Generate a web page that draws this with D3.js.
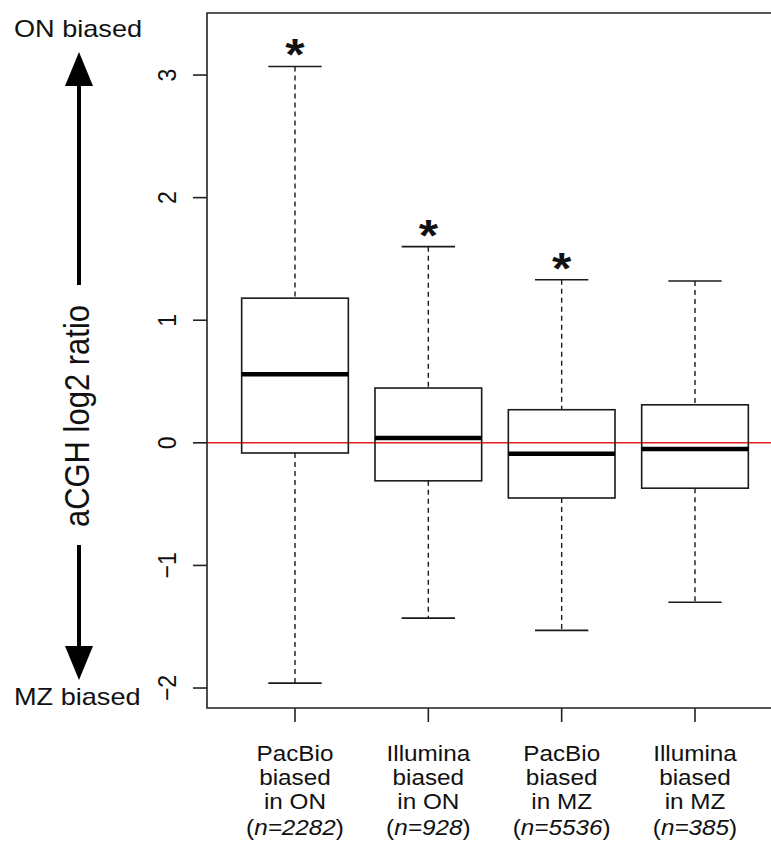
<!DOCTYPE html>
<html>
<head>
<meta charset="utf-8">
<script src="https://cdn.jsdelivr.net/npm/d3@7/dist/d3.min.js"></script>
<style>
  html, body { margin: 0; padding: 0; background: #fff; }
  svg { display: block; }
  text { font-family: "Liberation Sans", Arial, Helvetica, sans-serif; fill: #111; }
</style>
</head>
<body>
<svg id="chart" width="771" height="843"></svg>
<script>
// ---- data ----
const categories = [
  ["PacBio", "biased", "in ON"],
  ["Illumina", "biased", "in ON"],
  ["PacBio", "biased", "in MZ"],
  ["Illumina", "biased", "in MZ"]
];
const sampleSizes = ["2282", "928", "5536", "385"];
const whiskerLow  = [-1.96, -1.43, -1.53, -1.30];
const q1          = [-0.083, -0.31, -0.45, -0.37];
const median      = [0.56, 0.04, -0.09, -0.05];
const q3          = [1.18, 0.447, 0.27, 0.31];
const whiskerHigh = [3.07, 1.60, 1.33, 1.32];
const significant = [true, true, true, false];
const yTicks = [-2, -1, 0, 1, 2, 3];
const yTitle = "aCGH log2 ratio";
const topNote = "ON biased";
const bottomNote = "MZ biased";

// ---- layout ----
const svg = d3.select("#chart");
const SX = 1.13; // horizontal glyph stretch of the original raster
const plotLeft = 207, plotRight = 783, plotTop = 13, plotBottom = 708;

const x = d3.scaleLinear().domain([0.34, 4.66]).range([plotLeft, plotRight]);
const y = d3.scaleLinear().domain([-2.163, 3.506]).range([plotBottom, plotTop]);
const boxW = x(1.4) - x(1);   // half of 0.8 box width
const capW = x(1.2) - x(1);   // half of staple width

const stroke = "#1a1a1a";

// zero reference line
svg.append("line")
  .attr("x1", plotLeft).attr("x2", plotRight)
  .attr("y1", y(0)).attr("y2", y(0))
  .attr("stroke", "#e8201e").attr("stroke-width", 1.6);

const data = categories.map((c, i) => ({
  i, pos: i + 1, lo: whiskerLow[i], q1: q1[i], med: median[i], q3: q3[i], hi: whiskerHigh[i], sig: significant[i]
}));

const g = svg.append("g");
const box = g.selectAll("g.box").data(data).enter().append("g").attr("class", "box");

// whiskers (dashed)
box.append("line")
  .attr("x1", d => x(d.pos)).attr("x2", d => x(d.pos))
  .attr("y1", d => y(d.hi)).attr("y2", d => y(d.q3))
  .attr("stroke", stroke).attr("stroke-width", 1.4).attr("stroke-dasharray", "5,4");
box.append("line")
  .attr("x1", d => x(d.pos)).attr("x2", d => x(d.pos))
  .attr("y1", d => y(d.q1)).attr("y2", d => y(d.lo))
  .attr("stroke", stroke).attr("stroke-width", 1.4).attr("stroke-dasharray", "5,4");
// staples
box.append("line")
  .attr("x1", d => x(d.pos) - capW).attr("x2", d => x(d.pos) + capW)
  .attr("y1", d => y(d.hi)).attr("y2", d => y(d.hi))
  .attr("stroke", stroke).attr("stroke-width", 1.6);
box.append("line")
  .attr("x1", d => x(d.pos) - capW).attr("x2", d => x(d.pos) + capW)
  .attr("y1", d => y(d.lo)).attr("y2", d => y(d.lo))
  .attr("stroke", stroke).attr("stroke-width", 1.6);
// boxes
box.append("rect")
  .attr("x", d => x(d.pos) - boxW).attr("width", 2 * boxW)
  .attr("y", d => y(d.q3)).attr("height", d => y(d.q1) - y(d.q3))
  .attr("fill", "none").attr("stroke", stroke).attr("stroke-width", 1.6);
// medians
box.append("line")
  .attr("x1", d => x(d.pos) - boxW).attr("x2", d => x(d.pos) + boxW)
  .attr("y1", d => y(d.med)).attr("y2", d => y(d.med))
  .attr("stroke", "#000").attr("stroke-width", 4.5);
// significance stars
box.filter(d => d.sig).append("text")
  .attr("transform", d => `translate(${x(d.pos)},${y(d.hi) + 4}) scale(${SX},1)`)
  .attr("text-anchor", "middle")
  .style("font-size", "44px").style("font-weight", "bold")
  .text("*");

// frame (right side falls outside the picture)
svg.append("path")
  .attr("d", `M${plotRight},${plotTop}H${plotLeft}V${plotBottom}H${plotRight}`)
  .attr("fill", "none").attr("stroke", "#222").attr("stroke-width", 1.6);

// y axis ticks + labels
const yt = svg.append("g");
yt.selectAll("line").data(yTicks).enter().append("line")
  .attr("x1", plotLeft - 14).attr("x2", plotLeft)
  .attr("y1", d => y(d)).attr("y2", d => y(d))
  .attr("stroke", "#222").attr("stroke-width", 1.6);
yt.selectAll("text").data(yTicks).enter().append("text")
  .attr("transform", d => `translate(176,${y(d)}) scale(${SX},1) rotate(-90)`)
  .attr("text-anchor", "middle")
  .style("font-size", "23px")
  .text(d => d < 0 ? "\u2212" + Math.abs(d) : String(d));

// x axis ticks + labels
const xt = svg.append("g");
xt.selectAll("line").data(data).enter().append("line")
  .attr("x1", d => x(d.pos)).attr("x2", d => x(d.pos))
  .attr("y1", plotBottom).attr("y2", plotBottom + 14)
  .attr("stroke", "#222").attr("stroke-width", 1.6);
const lineBase = [761, 785, 809];
data.forEach(d => {
  categories[d.i].forEach((line, k) => {
    svg.append("text")
      .attr("transform", `translate(${x(d.pos)},${lineBase[k]}) scale(${SX},1)`)
      .attr("text-anchor", "middle").style("font-size", "21.5px")
      .text(line);
  });
  const t = svg.append("text")
    .attr("transform", `translate(${x(d.pos)},835) scale(${SX},1)`)
    .attr("text-anchor", "middle").style("font-size", "21.5px");
  t.append("tspan").text("(");
  t.append("tspan").style("font-style", "italic").text("n=" + sampleSizes[d.i]);
  t.append("tspan").text(")");
});

// left annotation: arrows + title
const ax = 79;
const ann = svg.append("g");
ann.append("line").attr("x1", ax).attr("x2", ax).attr("y1", 82).attr("y2", 285)
  .attr("stroke", "#000").attr("stroke-width", 4);
ann.append("path").attr("d", `M${ax},52L${ax + 14},86L${ax - 14},86Z`).attr("fill", "#000");
ann.append("line").attr("x1", ax).attr("x2", ax).attr("y1", 545).attr("y2", 650)
  .attr("stroke", "#000").attr("stroke-width", 4);
ann.append("path").attr("d", `M${ax},680L${ax + 14},646L${ax - 14},646Z`).attr("fill", "#000");

ann.append("text")
  .attr("transform", `translate(${ax + 10},416) scale(${SX},1) rotate(-90)`)
  .attr("text-anchor", "middle").style("font-size", "31px")
  .text(yTitle);
ann.append("text")
  .attr("transform", `translate(14,37) scale(${SX},1)`)
  .style("font-size", "24px").text(topNote);
ann.append("text")
  .attr("transform", `translate(14,705) scale(${SX},1)`)
  .style("font-size", "24px").text(bottomNote);
</script>
</body>
</html>
